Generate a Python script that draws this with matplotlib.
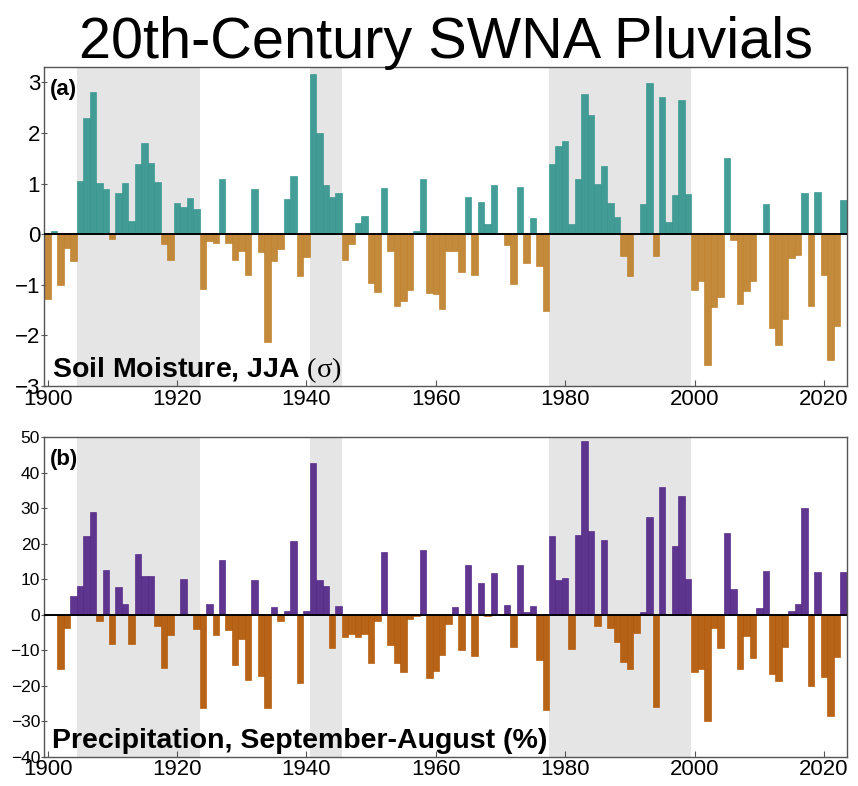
import numpy as np
import matplotlib.pyplot as plt

plt.rcParams['font.family'] = ['Liberation Sans', 'DejaVu Sans']
plt.rcParams['mathtext.fontset'] = 'custom'
plt.rcParams['mathtext.rm'] = 'Liberation Serif'
plt.rcParams['mathtext.it'] = 'Liberation Serif'

years = np.arange(1900, 2024)

# soil moisture JJA, standardized (one row per decade)
soil = [
    -1.28, 0.06, -1.01, -0.27, -0.52, 1.05, 2.30, 2.81, 1.01, 0.89,
    -0.09, 0.81, 1.02, 0.27, 1.38, 1.81, 1.40, 1.03, -0.20, -0.50,
    0.62, 0.54, 0.72, 0.49, -1.08, -0.13, -0.17, 1.09, -0.18, -0.50,
    -0.34, -0.80, 0.89, -0.36, -2.14, -0.52, -0.30, 0.70, 1.15, -0.83,
    -0.45, 3.16, 2.00, 0.97, 0.74, 0.81, -0.51, -0.19, 0.22, 0.36,
    -0.96, -1.14, 0.91, -0.34, -1.42, -1.31, -1.10, 0.07, 1.09, -1.16,
    -1.18, -1.48, -0.34, -0.34, -0.74, 0.74, -0.80, 0.63, 0.21, 0.97,
    0.01, -0.21, -0.98, 0.93, -0.56, 0.32, -0.63, -1.51, 1.38, 1.74,
    1.84, 0.21, 1.10, 2.78, 2.35, 1.00, 1.35, 0.62, 0.34, -0.43,
    -0.82, 0.00, 0.59, 2.99, -0.44, 2.72, 0.24, 0.77, 2.66, 0.79,
    -1.10, -0.93, -2.58, -1.43, -1.25, 1.50, -0.12, -1.37, -1.13, -0.92,
    0.00, 0.60, -1.85, -2.18, -1.67, -0.46, -0.42, 0.81, -1.42, 0.83,
    -0.81, -2.48, -1.82, 0.67,
]

# precipitation Sep-Aug, % anomaly
precip = [
    0.0, 0.0, -15.4, -3.9, 5.2, 8.2, 22.3, 28.9, -1.9, 12.6,
    -8.2, 7.8, 3.1, -8.4, 17.1, 10.8, 10.9, -3.1, -14.9, -5.8,
    0.0, 10.0, 0.3, -4.0, -26.4, 3.0, -5.6, 15.4, -4.3, -14.1,
    -6.9, -18.5, 9.9, -17.3, -26.2, 2.3, -1.7, 1.1, 20.9, -19.2,
    1.1, 42.9, 9.7, 8.2, -9.5, 2.5, -6.4, -5.4, -6.4, -5.4,
    -13.5, -1.8, 17.7, -8.6, -13.6, -16.2, -1.3, -0.4, 18.1, -17.8,
    -16.0, -11.5, -2.6, 2.3, -9.9, 13.9, -11.6, 9.0, -0.5, 11.8,
    0.0, 2.6, -9.2, 14.0, 0.8, 2.4, -12.9, -26.9, 22.2, 9.7,
    10.4, -9.7, 22.6, 49.0, 23.7, -3.2, 21.0, -3.8, -7.7, -13.4,
    -15.3, -5.1, 0.7, 27.6, -26.0, 36.1, 0.0, 19.5, 33.4, 10.0,
    -16.2, -15.2, -29.9, -3.7, -9.5, 22.9, 7.2, -15.2, -6.1, -12.1,
    1.8, 12.4, -16.7, -18.6, -9.1, 1.0, 2.9, 30.1, -20.1, 12.0,
    -17.7, -28.5, -11.9, 12.0,
]

pluvials = [(1905, 1923), (1941, 1945), (1978, 1999)]

fig = plt.figure(figsize=(8.58, 7.86), dpi=100)
ax1 = fig.add_axes([0.0516, 0.5089, 0.9352, 0.4055])
ax2 = fig.add_axes([0.0516, 0.0375, 0.9352, 0.4061])


def draw_panel(ax, vals, pos_col, neg_col, ylim, yticks, ysize, label, title):
    vals = np.array(vals)
    for start, end in pluvials:
        ax.axvspan(start - 0.5, end + 0.5, color='#e5e5e5', lw=0, zorder=0)
    cols = np.where(vals >= 0, pos_col, neg_col)
    ax.bar(years, vals, width=1.0, color=cols, edgecolor=cols, linewidth=0.5,
           alpha=0.93, zorder=2)
    ax.axhline(0, color='black', lw=1.4, zorder=3)
    ax.set_xlim(1899.5, 2023.5)
    ax.set_ylim(*ylim)
    ax.set_yticks(yticks)
    ax.set_xticks(range(1900, 2021, 20))
    ax.tick_params(axis='x', direction='in', length=4, labelsize=16, pad=2,
                   color='#555555')
    ax.tick_params(axis='y', direction='inout', length=4, labelsize=ysize,
                   pad=1, color='#555555')
    for s in ax.spines.values():
        s.set_color('#555555')
        s.set_linewidth(1.0)
    ax.text(0.007, 0.913, label, transform=ax.transAxes, fontsize=16,
            fontweight='bold', va='baseline', ha='left', zorder=5)
    ax.text(0.0095, 0.027, title, transform=ax.transAxes, fontsize=20.5,
            fontweight='bold', va='baseline', ha='left', zorder=5)


draw_panel(ax1, soil, '#35978f', '#bf812d', (-3, 3.3), range(-3, 4), 16,
           '(a)', r'Soil Moisture, JJA $\mathrm{(σ)}$')
draw_panel(ax2, precip, '#542788', '#b35806', (-40, 50), range(-40, 51, 10),
           12.5, '(b)', 'Precipitation, September-August (%)')

fig.text(0.52, 0.926, '20th-Century SWNA Pluvials', fontsize=41.5,
         ha='center', va='baseline')

fig.savefig('out.png', dpi=100)
